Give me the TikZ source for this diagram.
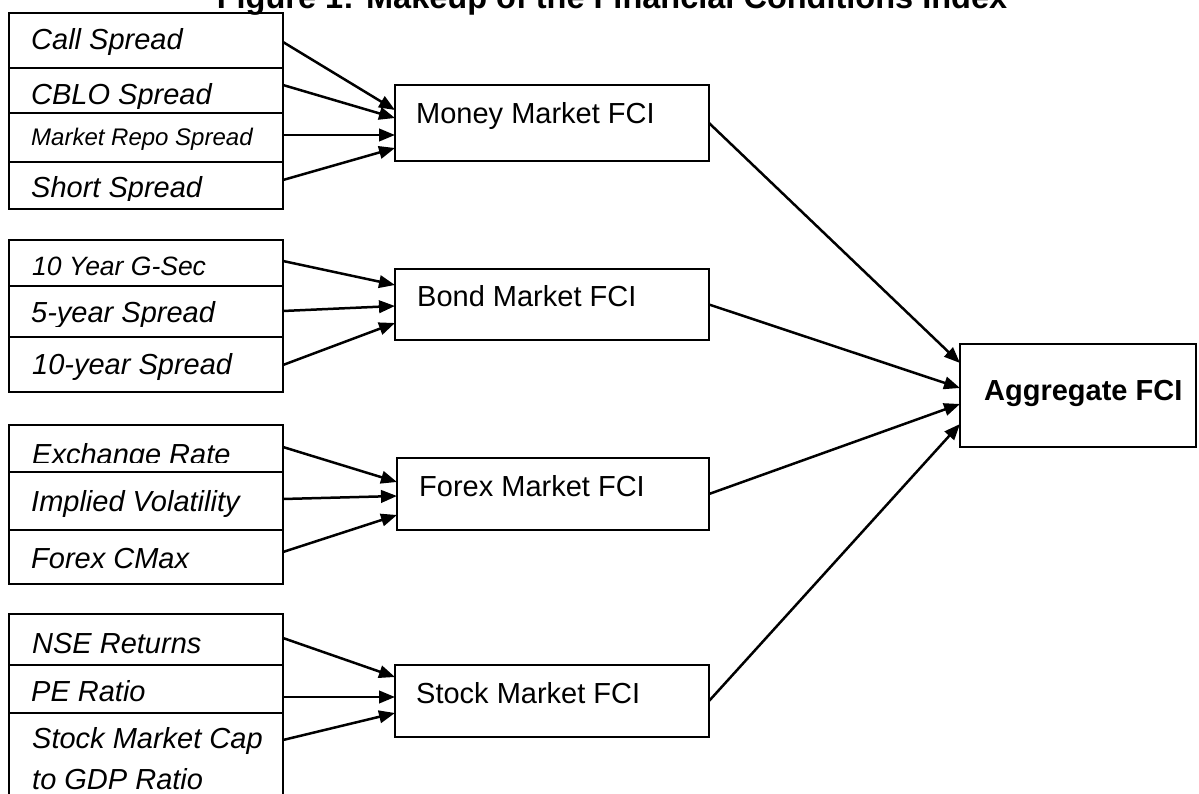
\documentclass[tikz,border=0pt]{standalone}
\usepackage{fontspec}
\setmainfont{Liberation Sans}
\usetikzlibrary{arrows.meta}
\tikzset{
  cell/.style={draw=black, line width=2pt, minimum width=274pt, anchor=north west, inner sep=0pt, outer sep=0pt},
  fcibox/.style={draw=black, line width=2pt, inner sep=0pt, outer sep=0pt},
  lbl/.style={inner sep=0pt, anchor=base west, font=\fontsize{29}{34}\selectfont\itshape},
  fcilbl/.style={inner sep=0pt, anchor=base west, font=\fontsize{29}{34}\selectfont},
  arr/.style={line width=2.5pt, -{Triangle[length=16pt,width=12.5pt]}}
}
\begin{document}
\begin{tikzpicture}[x=1pt,y=-1pt]
\useasboundingbox (0,0) rectangle (1199,794);
% title
\node[inner sep=0pt, anchor=base, font=\fontsize{32.5}{38}\selectfont\bfseries] (title) at (612,9) {Figure 1: Makeup of the Financial Conditions Index};

% ---------- Money market inputs ----------
\node[cell, minimum height=55pt] (call) at (9,13) {};
\node[cell, minimum height=45pt] (cblo) at (9,68) {};
\node[cell, minimum height=49pt] (repo) at (9,113) {};
\node[cell, minimum height=47pt] (short) at (9,162) {};
\node[lbl] (callt) at (31,50) {Call Spread};
\begin{scope}\clip (10,69) rectangle (282,109);
\node[lbl] (cblot) at (31,105) {CBLO Spread};
\end{scope}
\node[lbl, font=\fontsize{24}{28}\selectfont\itshape] (repot) at (31,146) {Market Repo Spread};
\begin{scope}\clip (10,163) rectangle (282,200.5);
\node[lbl] (shortt) at (31,198) {Short Spread};
\end{scope}

% ---------- Bond market inputs ----------
\node[cell, minimum height=46pt] (gsec) at (9,240) {};
\node[cell, minimum height=51pt] (five) at (9,286) {};
\node[cell, minimum height=55pt] (ten) at (9,337) {};
\node[lbl, font=\fontsize{26.5}{31}\selectfont\itshape] (gsect) at (32,276) {10 Year G-Sec};
\begin{scope}\clip (10,287) rectangle (282,326);
\node[lbl] (fivet) at (31,322) {5-year Spread};
\end{scope}
\node[lbl] (tent) at (32,374) {10-year Spread};

% ---------- Forex market inputs ----------
\node[cell, minimum height=47pt] (exch) at (9,425) {};
\node[cell, minimum height=58pt] (impl) at (9,472) {};
\node[cell, minimum height=54pt] (cmax) at (9,530) {};
\begin{scope}\clip (10,426) rectangle (282,462.5);
\node[lbl] (excht) at (32,464) {Exchange Rate};
\end{scope}
\node[lbl] (implt) at (31,511) {Implied Volatility};
\node[lbl] (cmaxt) at (31,568) {Forex CMax};

% ---------- Stock market inputs ----------
\node[cell, minimum height=51pt] (nse) at (9,614) {};
\node[cell, minimum height=48pt] (pe) at (9,665) {};
\node[cell, minimum height=95pt] (cap) at (9,713) {};
\node[lbl] (nset) at (32,653) {NSE Returns};
\node[lbl] (pet) at (31,701) {PE Ratio};
\node[lbl] (capt) at (32,748) {Stock Market Cap};
\node[lbl] (capt2) at (32,789) {to GDP Ratio};

% ---------- FCI boxes ----------
\node[fcibox, minimum width=314pt, minimum height=76pt] (mm) at (552,123) {};
\node[fcilbl] (mmt) at (416,124) {Money Market FCI};
\node[fcibox, minimum width=314pt, minimum height=71pt] (bm) at (552,304.5) {};
\node[fcilbl] (bmt) at (417,306) {Bond Market FCI};
\node[fcibox, minimum width=312pt, minimum height=72pt] (fx) at (553,494) {};
\node[fcilbl] (fxt) at (419,496) {Forex Market FCI};
\node[fcibox, minimum width=314pt, minimum height=72pt] (sm) at (552,701) {};
\node[fcilbl] (smt) at (416,703) {Stock Market FCI};

\node[fcibox, minimum width=236pt, minimum height=103pt] (agg) at (1078,395.5) {};
\node[fcilbl, font=\fontsize{29}{34}\selectfont\bfseries] (aggt) at (984,400) {Aggregate FCI};

% ---------- connectors: inputs -> FCI ----------
\draw[arr] ([yshift=-1.5pt]call.east) -- ([yshift=13pt]mm.west);
\draw[arr] ([yshift=5.5pt]cblo.east) -- ([yshift=5pt]mm.west);
\draw[arr] ([yshift=2.5pt]repo.east) -- ([yshift=-12pt]mm.west);
\draw[arr] ([yshift=5.5pt]short.east) -- ([yshift=-25pt]mm.west);

\draw[arr] ([yshift=2pt]gsec.east) -- ([yshift=19.5pt]bm.west);
\draw[arr] ([yshift=0.5pt]five.east) -- ([yshift=-1.5pt]bm.west);
\draw[arr] ([yshift=-0.5pt]ten.east) -- ([yshift=-18.5pt]bm.west);

\draw[arr] ([yshift=1.5pt]exch.east) -- ([yshift=12pt]fx.west);
\draw[arr] ([yshift=2pt]impl.east) -- ([yshift=-2pt]fx.west);
\draw[arr] ([yshift=5pt]cmax.east) -- ([yshift=-21pt]fx.west);

\draw[arr] ([yshift=1.5pt]nse.east) -- ([yshift=24pt]sm.west);
\draw[arr] ([yshift=-8pt]pe.east) -- ([yshift=4pt]sm.west);
\draw[arr] ([yshift=20.5pt]cap.east) -- ([yshift=-12pt]sm.west);

% ---------- connectors: FCI -> aggregate ----------
\draw[arr] (mm.east) -- ([yshift=32.5pt]agg.west);
\draw[arr] (bm.east) -- ([yshift=7.5pt]agg.west);
\draw[arr] (fx.east) -- ([yshift=-8.5pt]agg.west);
\draw[arr] (sm.east) -- ([yshift=-28.5pt]agg.west);
\end{tikzpicture}
\end{document}
